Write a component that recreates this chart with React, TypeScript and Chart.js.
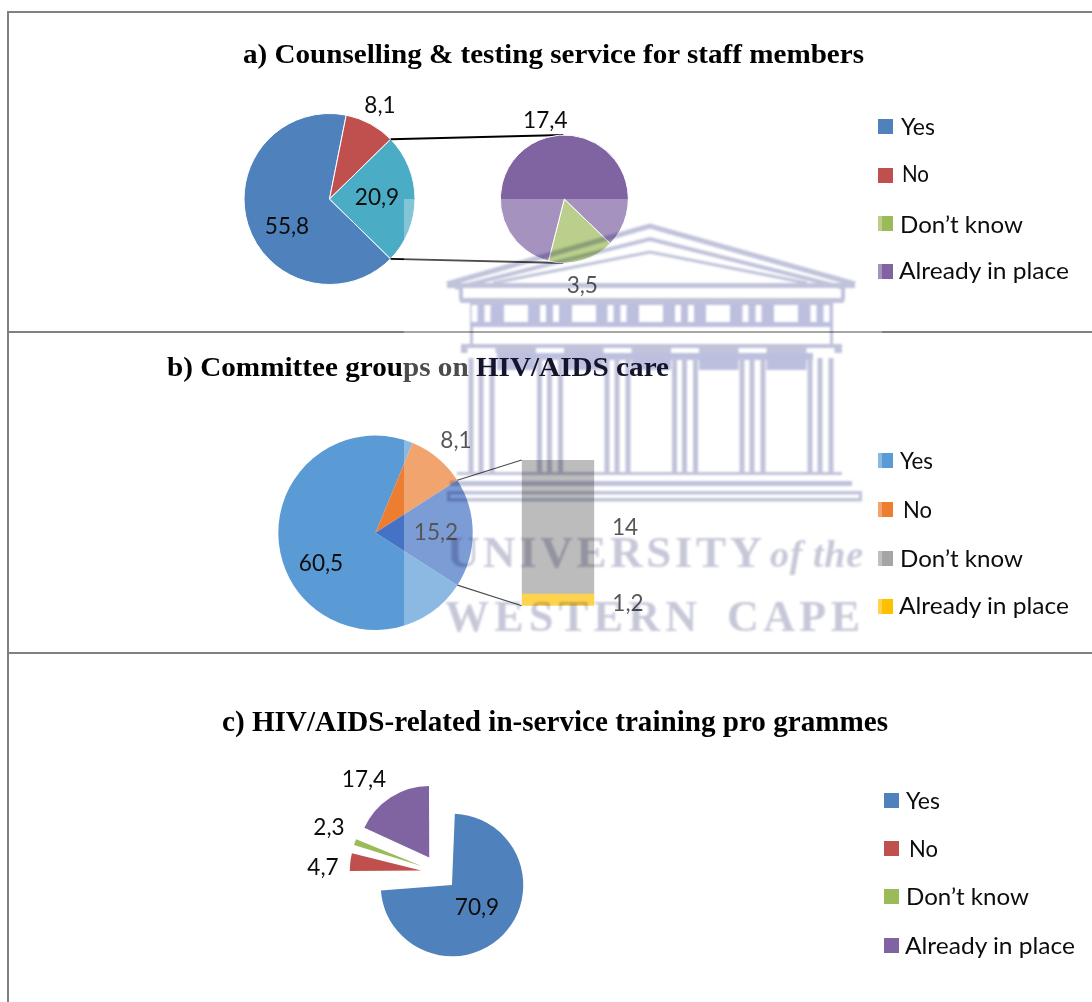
import React, { useEffect, useRef } from "react";
import { Chart, registerables } from "chart.js";

Chart.register(...registerables);

const W = 1092;
const H = 1002;

// ---------- data ----------
const legendCategories = ["Yes", "No", "Don’t know", "Already in place"];

const pieACategories = ["Yes", "No", "Other"];
const pieAValues = [55.8, 8.1, 20.9];
const pieAColors = ["#4F81BD", "#C0504D", "#4BACC6"];
const subACategories = ["Don’t know", "Already in place"];
const subAValues = [3.5, 17.4];
const subAColors = ["#9BBB59", "#8064A2"];
const legendAColors = ["#4F81BD", "#C0504D", "#9BBB59", "#8064A2"];

const pieBCategories = ["Yes", "No", "Other"];
const pieBValues = [60.5, 8.1, 15.2];
const pieBColors = ["#5B9BD5", "#ED7D31", "#4472C4"];
const barBKnowValues = [14];
const barBPlaceValues = [1.2];
const legendBColors = ["#5B9BD5", "#ED7D31", "#A5A5A5", "#FFC000"];

const pieCCategories = ["Yes", "No", "Don’t know", "Already in place"];
const pieCValues = [70.9, 4.7, 2.3, 17.4];
const pieCColors = ["#4F81BD", "#C0504D", "#9BBB59", "#8064A2"];

// ---------- layout (no data) ----------
const centred = (cx: number, cy: number, s: number) => ({
  left: cx - s,
  right: W - cx - s,
  top: cy - s,
  bottom: H - cy - s,
});

const LABEL_FONT = "24px Lato";
const LABEL_SQUEEZE = 0.94;
const LABEL_COLOR = "#0c0c0c";
const LEGEND_Y = {
  a: { markerX: 878, marker: [119, 168, 216, 264], text: [[901, 135, 34], [902, 182, 27], [900, 233, 123], [899, 279, 170]] },
  b: { markerX: 878, marker: [453, 502, 551, 599], text: [[900, 469, 33], [903, 518, 29], [900, 567, 123], [899, 614, 170]] },
  c: { markerX: 884, marker: [793, 841, 889, 938], text: [[906, 809, 34], [909, 857, 29], [906, 905, 123], [905, 954, 170]] },
};

const COLUMN_CENTRES = [481.5, 550, 617.5, 685, 752.5, 820.5];
const WINDOW_CENTRES = [516, 584, 651, 718, 786];
const WM = "#c0c3da";
const WM_DARK = "#bcc0de";

// ---------- plugins ----------
const valueLabels = (offsets: number[][][]) => ({
  id: "valueLabels",
  afterDatasetsDraw(chart: any) {
    const { ctx } = chart;
    chart.data.datasets.forEach((ds: any, d: number) => {
      chart.getDatasetMeta(d).data.forEach((el: any, i: number) => {
        const p = el.outerRadius !== undefined ? { x: el.x, y: el.y } : el.getCenterPoint();
        const [dx, dy] = offsets[d][i];
        ctx.save();
        ctx.font = LABEL_FONT;
        ctx.fillStyle = LABEL_COLOR;
        ctx.textAlign = "center";
        ctx.textBaseline = "middle";
        ctx.translate(p.x + dx, p.y + dy);
        ctx.scale(LABEL_SQUEEZE, 1);
        ctx.fillText(String(ds.data[i]).replace(".", ","), 0, 0);
        ctx.restore();
      });
    });
  },
});

// Draws the two bar-of-pie leader lines from the edge of a slice to the detail chart.
const leaders = (slice: number, lineWidth: number, target: () => [number, number, number, number]) => ({
  id: "leaders",
  afterDatasetsDraw(chart: any) {
    const arc = chart.getDatasetMeta(0).data[slice];
    const [x1, y1, x2, y2] = target();
    const { ctx } = chart;
    ctx.save();
    ctx.strokeStyle = "#000";
    ctx.lineWidth = lineWidth;
    ctx.beginPath();
    ctx.moveTo(arc.x + Math.cos(arc.startAngle) * arc.outerRadius, arc.y + Math.sin(arc.startAngle) * arc.outerRadius);
    ctx.lineTo(x1, y1);
    ctx.moveTo(arc.x + Math.cos(arc.endAngle) * arc.outerRadius, arc.y + Math.sin(arc.endAngle) * arc.outerRadius);
    ctx.lineTo(x2, y2);
    ctx.stroke();
    ctx.restore();
  },
});

// Chart.js grows exploded slices; keep every slice at the same radius as in the source.
const evenExplode = (radius: number, explode: number) => ({
  id: "evenExplode",
  afterDatasetUpdate(_chart: any, args: any) {
    args.meta.data.forEach((arc: any) => {
      const fix = 1 - Math.sin(Math.min(Math.PI, arc.circumference));
      arc.outerRadius = radius - explode * fix;
    });
  },
});

const pieOptions = (cx: number, cy: number, s: number, rotation: number) => ({
  responsive: false,
  animation: false as const,
  rotation,
  layout: { padding: centred(cx, cy, s) },
  plugins: { legend: { display: false }, tooltip: { enabled: false } },
});

export default function App() {
  const a = useRef<HTMLCanvasElement>(null);
  const a2 = useRef<HTMLCanvasElement>(null);
  const b = useRef<HTMLCanvasElement>(null);
  const b2 = useRef<HTMLCanvasElement>(null);
  const c = useRef<HTMLCanvasElement>(null);

  useEffect(() => {
    const subA = new Chart(a2.current!, {
      type: "pie",
      data: {
        labels: subACategories,
        datasets: [{ data: subAValues, backgroundColor: subAColors, borderColor: "#fff", borderWidth: 1, radius: 64 } as any],
      },
      options: pieOptions(564.3, 199, 70, 134) as any,
      plugins: [valueLabels([[[18, 86], [-19, -79]]])],
    });
    const mainA = new Chart(a.current!, {
      type: "pie",
      data: {
        labels: pieACategories,
        datasets: [{ data: pieAValues, backgroundColor: pieAColors, borderColor: "#fff", borderWidth: 1, radius: 85.5 } as any],
      },
      options: pieOptions(329.5, 199, 90, 134.4) as any,
      plugins: [
        valueLabels([[[-42.5, 27], [50.5, -94], [47.5, -2]]]),
        leaders(2, 1.8, () => {
          const arc: any = subA.getDatasetMeta(0).data[0];
          return [arc.x - 1, arc.y - arc.outerRadius, arc.x - 1, arc.y + arc.outerRadius];
        }),
      ],
    });
    const barB = new Chart(b2.current!, {
      type: "bar",
      data: {
        labels: [""],
        datasets: [
          { label: legendCategories[3], data: barBPlaceValues, backgroundColor: "#FFC000" },
          { label: legendCategories[2], data: barBKnowValues, backgroundColor: "#A0A0A0" },
        ],
      },
      options: {
        responsive: false,
        animation: false,
        barPercentage: 1,
        categoryPercentage: 1,
        layout: { padding: { left: 521.7, right: W - 594.3, top: 460, bottom: H - 605.7 } },
        scales: {
          x: { display: false, stacked: true },
          y: { display: false, stacked: true, min: 0, max: 15.2 },
        },
        plugins: { legend: { display: false }, tooltip: { enabled: false } },
      } as any,
      plugins: [valueLabels([[[70, 3]], [[67, 0]]])],
    });
    const mainB = new Chart(b.current!, {
      type: "pie",
      data: {
        labels: pieBCategories,
        datasets: [{ data: pieBValues, backgroundColor: pieBColors, borderWidth: 0, radius: 97.2 } as any],
      },
      options: pieOptions(375.5, 532.8, 102, 122.6) as any,
      plugins: [
        valueLabels([[[-54.5, 30], [80.5, -93], [60.5, -1]]]),
        leaders(2, 1.2, () => {
          const area = barB.chartArea;
          return [area.left, area.top, area.left, area.bottom];
        }),
      ],
    });
    const pieC = new Chart(c.current!, {
      type: "pie",
      data: {
        labels: pieCCategories,
        datasets: [{ data: pieCValues, backgroundColor: pieCColors, borderWidth: 0, radius: 71.3, offset: 72 } as any],
      },
      options: pieOptions(439, 872.5, 120, 0) as any,
      plugins: [evenExplode(71.3, 18), valueLabels([[[38, 34.5], [-116, -5.5], [-110, -45.5], [-75, -93.5]]])],
    });
    return () => {
      [mainA, subA, mainB, barB, pieC].forEach((x) => x.destroy());
    };
  }, []);

  const layer: React.CSSProperties = { position: "absolute", left: 0, top: 0, display: "block" };

  const legendMarks = (l: { markerX: number; marker: number[] }, colors: string[]) =>
    l.marker.map((y, i) => <rect key={i} x={l.markerX} y={y} width={15} height={15} fill={colors[i]} />);
  const legendTexts = (l: { text: number[][] }) =>
    l.text.map(([x, y, w], i) => (
      <text key={i} x={x} y={y} textLength={w} lengthAdjust="spacingAndGlyphs" fontFamily="Lato" fontSize={23.5} fill="#0c0c0c">
        {legendCategories[i]}
      </text>
    ));

  return (
    <div style={{ position: "absolute", left: 0, top: 0, width: W, height: H, overflow: "hidden", background: "#fff" }}>
      <svg width={W} height={H} style={layer}>
        <g stroke="#808080" strokeWidth={2}>
          <line x1={8} y1={11} x2={8} y2={H} />
          <line x1={7} y1={12} x2={W} y2={12} />
          <line x1={8} y1={332} x2={W} y2={332} />
          <line x1={8} y1={653} x2={W} y2={653} />
        </g>
        {legendMarks(LEGEND_Y.a, legendAColors)}
        {legendMarks(LEGEND_Y.b, legendBColors)}
        {legendMarks(LEGEND_Y.c, pieCColors)}
      </svg>
      <canvas ref={a} width={W} height={H} style={layer} />
      <canvas ref={a2} width={W} height={H} style={layer} />
      <canvas ref={b} width={W} height={H} style={layer} />
      <canvas ref={b2} width={W} height={H} style={layer} />
      <canvas ref={c} width={W} height={H} style={layer} />

      {/* washed-out watermark image laid over the page */}
      <svg width={W} height={H} style={layer}>
        <rect x={404} y={199} width={478} height={441} fill="#fff" opacity={0.3} />
      </svg>
      <svg width={W} height={H} style={{ ...layer, mixBlendMode: "multiply", filter: "blur(1.1px)" }}>
        <g fill="none" stroke={WM} strokeLinejoin="miter">
          <polyline points="447,284 650,226 855,284" strokeWidth={5} />
          <polyline points="455,288 650,239 845,288" strokeWidth={4} />
          <polyline points="493,283 650,252 807,283" strokeWidth={3} />
        </g>
        <g fill={WM}>
          <rect x={447} y={283} width={408} height={5} />
          <rect x={460} y={298} width={384} height={5} />
          <rect x={459} y={288} width={4} height={12} />
          <rect x={841} y={288} width={4} height={12} />
          <rect x={470} y={303} width={363} height={24} fill={WM_DARK} />
          <rect x={470} y={327} width={3} height={18} />
          <rect x={830} y={327} width={3} height={18} />
          <rect x={461} y={344} width={381} height={9} />
          <rect x={497} y={353} width={316} height={17} fill={WM_DARK} />
        </g>
        {WINDOW_CENTRES.map((x) => (
          <rect key={x} x={x - 12} y={305} width={24} height={17} fill="#fff" />
        ))}
        {COLUMN_CENTRES.map((g) => (
          <g key={g}>
            <rect x={g - 10} y={305} width={6} height={17} fill="#fff" />
            <rect x={g + 3} y={305} width={6} height={17} fill="#fff" />
            <rect x={g - 14} y={348} width={28} height={5} fill="#fff" />
            <rect x={g - 14} y={360} width={28} height={112} fill="#fff" />
            <rect x={g - 13} y={358} width={5} height={114} fill={WM} />
            <rect x={g - 3} y={358} width={5} height={114} fill={WM} />
            <rect x={g + 8} y={358} width={5} height={114} fill={WM} />
          </g>
        ))}
        <g fill={WM}>
          <rect x={457} y={472} width={385} height={3} />
          <rect x={450} y={481} width={402} height={5} />
          <rect x={447} y={491} width={415} height={3.5} />
          <rect x={447} y={498} width={415} height={3.5} />
          <rect x={447} y={491} width={3} height={10} />
          <rect x={859} y={491} width={3} height={10} />
        </g>
        <g fontFamily="Liberation Serif" fontWeight={700} fill="#c6c8d8">
          <text x={447} y={567} fontSize={45} textLength={315} lengthAdjust="spacing">UNIVERSITY</text>
          <text x={770} y={567} fontSize={38} fontStyle="italic" textLength={93} lengthAdjust="spacing">of the</text>
          <text x={445} y={631} fontSize={44} textLength={252} lengthAdjust="spacing">WESTERN</text>
          <text x={727} y={631} fontSize={44} textLength={133} lengthAdjust="spacing">CAPE</text>
        </g>
      </svg>

      {/* titles and legend text */}
      <svg width={W} height={H} style={layer}>
        <g fontFamily="Liberation Serif" fontWeight={700} fontSize={27} fill="#000">
          <text x={243} y={62.5} textLength={621} lengthAdjust="spacingAndGlyphs">a) Counselling &amp; testing service for staff members</text>
          <text x={167} y={375.5} textLength={502} lengthAdjust="spacingAndGlyphs">
            b) Committee grou<tspan fill="#4c4c4c">ps on </tspan><tspan fill="#14142c">HIV/AIDS care</tspan>
          </text>
          <text x={222} y={730.5} fontSize={30} textLength={666} lengthAdjust="spacingAndGlyphs">c) HIV/AIDS-related in-service training pro grammes</text>
        </g>
        {legendTexts(LEGEND_Y.a)}
        {legendTexts(LEGEND_Y.b)}
        {legendTexts(LEGEND_Y.c)}
      </svg>
    </div>
  );
}
